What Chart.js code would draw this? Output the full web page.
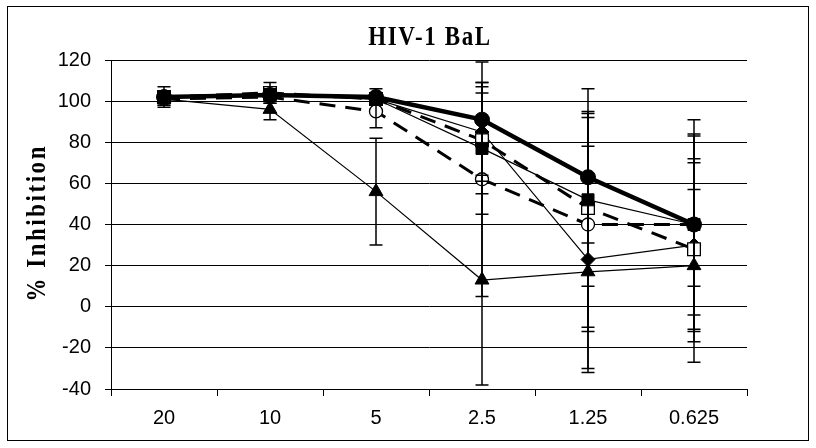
<!DOCTYPE html>
<html>
<head>
<meta charset="utf-8">
<script src="https://cdn.jsdelivr.net/npm/chart.js@4/dist/chart.umd.min.js"></script>
<style>
  html, body { margin: 0; padding: 0; background: #fff; }
  #wrap { width: 816px; height: 448px; }
</style>
</head>
<body>
<div id="wrap"><canvas id="bal" width="816" height="448"></canvas></div>
<script>
// x categories (concentration)
var concentrations = ['20', '10', '5', '2.5', '1.25', '0.625'];

// % inhibition, one list per series
var filledCircle = [102, 103, 102, 91, 63, 40];
var openCircle   = [101, 102, 95, 62, 40, 40];
var filledSquare = [102, 103, 101, 77, 52, 40];
var openSquare   = [102, 104, 101, 81, 48, 28];
var diamond      = [102, 103, 101, 85, 23, 30];
var triangle     = [101, 96, 56, 13, 17, 20];

// +/- error for each point
var filledCircleErr = [5, 3, 4, 13, 32, 51];
var openCircleErr   = [3, 3, 8, 57, 52, 44];
var filledSquareErr = [3, 3, 3, 32, 42, 30];
var openSquareErr   = [3, 5, 3, 26, 58, 55];
var diamondErr      = [3, 3, 3, 24, 55, 42];
var triangleErr     = [3, 5, 26, 51, 47, 37];

var chartTitle = 'HIV-1 BaL';
var yTitle = '% Inhibition';

var frame = {
    id: 'frame',
    beforeDraw: function(chart) {
        var ctx = chart.ctx;
        ctx.save();
        ctx.fillStyle = '#fff';
        ctx.fillRect(0, 0, chart.width, chart.height);
        ctx.strokeStyle = '#000';
        ctx.lineWidth = 1;
        ctx.strokeRect(7.5, 6.5, 801, 434);
        ctx.restore();
    }
};

// titles drawn by hand: the original uses a tall, narrow bold serif
var titles = {
    id: 'titles',
    afterDraw: function(chart) {
        var ctx = chart.ctx;
        var area = chart.chartArea;
        ctx.save();
        ctx.fillStyle = '#000';
        ctx.textAlign = 'center';
        ctx.textBaseline = 'middle';

        ctx.save();
        ctx.translate((area.left + area.right) / 2 + 1, 38);
        ctx.scale(0.82, 1);
        ctx.font = 'bold 28px "Liberation Serif", serif';
        ctx.letterSpacing = '2px';
        ctx.fillText(chartTitle, 0, 0);
        ctx.restore();

        ctx.translate(38, (area.top + area.bottom) / 2);
        ctx.rotate(-Math.PI / 2);
        ctx.scale(0.85, 1);
        ctx.font = 'bold 27px "Liberation Serif", serif';
        ctx.letterSpacing = '3px';
        ctx.fillText(yTitle, 2, 0);
        ctx.restore();
    }
};

var errorBars = {
    id: 'errorBars',
    afterDatasetsDraw: function(chart) {
        var ctx = chart.ctx;
        var y = chart.scales.y;
        ctx.save();
        ctx.strokeStyle = '#000';
        ctx.lineWidth = 1.5;
        chart.data.datasets.forEach(function(ds, i) {
            var meta = chart.getDatasetMeta(i);
            meta.data.forEach(function(pt, j) {
                var hi = y.getPixelForValue(ds.data[j] + ds.errors[j]);
                var lo = y.getPixelForValue(ds.data[j] - ds.errors[j]);
                ctx.beginPath();
                ctx.moveTo(pt.x, hi);
                ctx.lineTo(pt.x, lo);
                ctx.moveTo(pt.x - 6.5, hi);
                ctx.lineTo(pt.x + 6.5, hi);
                ctx.moveTo(pt.x - 6.5, lo);
                ctx.lineTo(pt.x + 6.5, lo);
                ctx.stroke();
            });
        });
        ctx.restore();
    }
};

var series = function(data, errors, opts) {
    var ds = {
        data: data,
        errors: errors,
        borderColor: '#000',
        backgroundColor: '#000',
        pointBorderColor: '#000',
        pointBorderWidth: 1,
        tension: 0,
        fill: false
    };
    for (var k in opts) ds[k] = opts[k];
    return ds;
};

new Chart(document.getElementById('bal').getContext('2d'), {
    type: 'line',
    data: {
        labels: concentrations,
        datasets: [
            series(filledCircle, filledCircleErr, {borderWidth: 4.5, pointStyle: 'circle', pointRadius: 7.5}),
            series(openCircle, openCircleErr, {borderWidth: 3, borderDash: [16, 10], pointStyle: 'circle', pointRadius: 6.5, pointBackgroundColor: '#fff', pointBorderWidth: 1.3}),
            series(filledSquare, filledSquareErr, {borderWidth: 1.2, pointStyle: 'rect', pointRadius: 8.5}),
            series(openSquare, openSquareErr, {borderWidth: 3, borderDash: [16, 10], pointStyle: 'rect', pointRadius: 9, pointBackgroundColor: '#fff', pointBorderWidth: 1.3}),
            series(diamond, diamondErr, {borderWidth: 1.2, pointStyle: 'rectRot', pointRadius: 7}),
            series(triangle, triangleErr, {borderWidth: 1.2, pointStyle: 'triangle', pointRadius: 8})
        ]
    },
    options: {
        responsive: false,
        animation: false,
        devicePixelRatio: 1,
        layout: {padding: {top: 60, right: 69, bottom: 8, left: 0}},
        plugins: {
            legend: {display: false},
            tooltip: {enabled: false},
            title: {display: false}
        },
        scales: {
            x: {
                offset: true,
                grid: {display: true, drawOnChartArea: false, offset: true, tickLength: 7, color: '#000'},
                border: {color: '#000', width: 1},
                ticks: {color: '#000', padding: 10, font: {family: '"Liberation Sans", Arial', size: 20}},
                afterFit: function(scale) { scale.height = 51; }
            },
            y: {
                min: -40,
                max: 120,
                ticks: {stepSize: 20, color: '#000', padding: 14, font: {family: '"Liberation Sans", Arial', size: 20}},
                grid: {color: '#000', lineWidth: 1, tickLength: 6},
                border: {color: '#000', width: 1},
                afterFit: function(scale) { scale.width = 111; }
            }
        }
    },
    plugins: [frame, titles, errorBars]
});
</script>
</body>
</html>
